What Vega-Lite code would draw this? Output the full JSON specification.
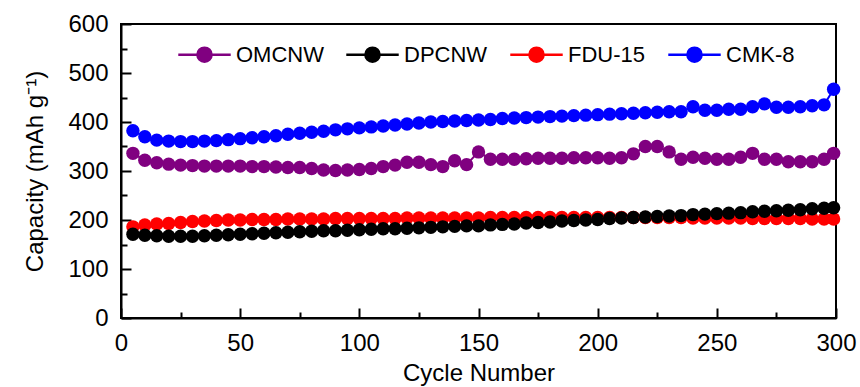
{
  "$schema": "https://vega.github.io/schema/vega-lite/v6.json",
  "autosize": {"type": "none"},
  "width": 715,
  "height": 294,
  "padding": {"left": 121, "top": 24, "right": 24, "bottom": 69},
  "background": "white",
  "config": {
    "font": "Liberation Sans",
    "view": {"stroke": "black", "strokeWidth": 2},
    "axis": {
      "labelFont": "Liberation Sans",
      "titleFont": "Liberation Sans",
      "labelFontSize": 24,
      "titleFontSize": 24,
      "titleFontWeight": "normal",
      "labelColor": "black",
      "titleColor": "black",
      "domainColor": "black",
      "domainWidth": 2,
      "tickColor": "black",
      "tickWidth": 2,
      "grid": false
    },
    "legend": {
      "labelFont": "Liberation Sans",
      "labelFontSize": 22,
      "labelColor": "black"
    }
  },
  "data": {
    "values": [
      {"c":5,"OMCNW":336,"DPCNW":171,"FDU-15":186,"CMK-8":382},
      {"c":10,"OMCNW":322,"DPCNW":169,"FDU-15":190,"CMK-8":370},
      {"c":15,"OMCNW":317,"DPCNW":168,"FDU-15":192,"CMK-8":363},
      {"c":20,"OMCNW":314,"DPCNW":167,"FDU-15":193,"CMK-8":361},
      {"c":25,"OMCNW":312,"DPCNW":167,"FDU-15":195,"CMK-8":360},
      {"c":30,"OMCNW":311,"DPCNW":167,"FDU-15":197,"CMK-8":360},
      {"c":35,"OMCNW":310,"DPCNW":168,"FDU-15":198,"CMK-8":361},
      {"c":40,"OMCNW":310,"DPCNW":169,"FDU-15":199,"CMK-8":362},
      {"c":45,"OMCNW":310,"DPCNW":170,"FDU-15":200,"CMK-8":364},
      {"c":50,"OMCNW":310,"DPCNW":171,"FDU-15":200,"CMK-8":366},
      {"c":55,"OMCNW":309,"DPCNW":172,"FDU-15":201,"CMK-8":368},
      {"c":60,"OMCNW":309,"DPCNW":173,"FDU-15":201,"CMK-8":370},
      {"c":65,"OMCNW":308,"DPCNW":174,"FDU-15":201,"CMK-8":372},
      {"c":70,"OMCNW":307,"DPCNW":175,"FDU-15":202,"CMK-8":375},
      {"c":75,"OMCNW":307,"DPCNW":176,"FDU-15":202,"CMK-8":377},
      {"c":80,"OMCNW":305,"DPCNW":177,"FDU-15":202,"CMK-8":379},
      {"c":85,"OMCNW":302,"DPCNW":178,"FDU-15":202,"CMK-8":381},
      {"c":90,"OMCNW":301,"DPCNW":178,"FDU-15":203,"CMK-8":384},
      {"c":95,"OMCNW":302,"DPCNW":179,"FDU-15":203,"CMK-8":386},
      {"c":100,"OMCNW":303,"DPCNW":180,"FDU-15":203,"CMK-8":388},
      {"c":105,"OMCNW":305,"DPCNW":181,"FDU-15":203,"CMK-8":390},
      {"c":110,"OMCNW":309,"DPCNW":182,"FDU-15":203,"CMK-8":392},
      {"c":115,"OMCNW":312,"DPCNW":182,"FDU-15":203,"CMK-8":394},
      {"c":120,"OMCNW":318,"DPCNW":183,"FDU-15":204,"CMK-8":396},
      {"c":125,"OMCNW":318,"DPCNW":184,"FDU-15":204,"CMK-8":398},
      {"c":130,"OMCNW":313,"DPCNW":185,"FDU-15":204,"CMK-8":400},
      {"c":135,"OMCNW":309,"DPCNW":186,"FDU-15":204,"CMK-8":401},
      {"c":140,"OMCNW":321,"DPCNW":187,"FDU-15":204,"CMK-8":402},
      {"c":145,"OMCNW":313,"DPCNW":188,"FDU-15":204,"CMK-8":403},
      {"c":150,"OMCNW":339,"DPCNW":188,"FDU-15":204,"CMK-8":404},
      {"c":155,"OMCNW":324,"DPCNW":190,"FDU-15":205,"CMK-8":405},
      {"c":160,"OMCNW":324,"DPCNW":191,"FDU-15":205,"CMK-8":407},
      {"c":165,"OMCNW":324,"DPCNW":192,"FDU-15":205,"CMK-8":408},
      {"c":170,"OMCNW":325,"DPCNW":194,"FDU-15":205,"CMK-8":409},
      {"c":175,"OMCNW":326,"DPCNW":195,"FDU-15":205,"CMK-8":410},
      {"c":180,"OMCNW":326,"DPCNW":196,"FDU-15":205,"CMK-8":411},
      {"c":185,"OMCNW":326,"DPCNW":198,"FDU-15":205,"CMK-8":412},
      {"c":190,"OMCNW":327,"DPCNW":199,"FDU-15":205,"CMK-8":413},
      {"c":195,"OMCNW":327,"DPCNW":200,"FDU-15":205,"CMK-8":414},
      {"c":200,"OMCNW":327,"DPCNW":201,"FDU-15":205,"CMK-8":415},
      {"c":205,"OMCNW":326,"DPCNW":203,"FDU-15":205,"CMK-8":416},
      {"c":210,"OMCNW":327,"DPCNW":204,"FDU-15":205,"CMK-8":417},
      {"c":215,"OMCNW":335,"DPCNW":205,"FDU-15":205,"CMK-8":418},
      {"c":220,"OMCNW":350,"DPCNW":206,"FDU-15":205,"CMK-8":419},
      {"c":225,"OMCNW":350,"DPCNW":207,"FDU-15":205,"CMK-8":420},
      {"c":230,"OMCNW":339,"DPCNW":208,"FDU-15":205,"CMK-8":421},
      {"c":235,"OMCNW":324,"DPCNW":209,"FDU-15":205,"CMK-8":421},
      {"c":240,"OMCNW":328,"DPCNW":211,"FDU-15":204,"CMK-8":431},
      {"c":245,"OMCNW":326,"DPCNW":212,"FDU-15":204,"CMK-8":424},
      {"c":250,"OMCNW":324,"DPCNW":213,"FDU-15":204,"CMK-8":424},
      {"c":255,"OMCNW":324,"DPCNW":214,"FDU-15":204,"CMK-8":426},
      {"c":260,"OMCNW":328,"DPCNW":215,"FDU-15":204,"CMK-8":426},
      {"c":265,"OMCNW":336,"DPCNW":217,"FDU-15":203,"CMK-8":431},
      {"c":270,"OMCNW":324,"DPCNW":218,"FDU-15":203,"CMK-8":437},
      {"c":275,"OMCNW":324,"DPCNW":219,"FDU-15":203,"CMK-8":430},
      {"c":280,"OMCNW":319,"DPCNW":220,"FDU-15":203,"CMK-8":430},
      {"c":285,"OMCNW":319,"DPCNW":221,"FDU-15":203,"CMK-8":431},
      {"c":290,"OMCNW":319,"DPCNW":223,"FDU-15":202,"CMK-8":433},
      {"c":295,"OMCNW":324,"DPCNW":224,"FDU-15":202,"CMK-8":435},
      {"c":299,"OMCNW":336,"DPCNW":225,"FDU-15":202,"CMK-8":467}
    ]
  },
  "transform": [
    {"fold": ["CMK-8", "OMCNW", "FDU-15", "DPCNW"], "as": ["series", "cap"]}
  ],
  "mark": {
    "type": "line",
    "strokeWidth": 2,
    "point": {"filled": true, "size": 180, "opacity": 1}
  },
  "encoding": {
    "x": {
      "field": "c",
      "type": "quantitative",
      "title": "Cycle Number",
      "scale": {"domain": [0, 300], "nice": false, "zero": false},
      "axis": {
        "values": [0, 25, 50, 75, 100, 125, 150, 175, 200, 225, 250, 275, 300],
        "labelExpr": "datum.value % 50 === 0 ? datum.label : ''",
        "tickSize": {"condition": {"test": "datum.value % 50 === 0", "value": -10}, "value": -6},
        "labelPadding": 23,
        "titlePadding": 2,
        "labelFlush": false,
        "labelOverlap": false
      }
    },
    "y": {
      "field": "cap",
      "type": "quantitative",
      "title": "Capacity (mAh g⁻¹)",
      "scale": {"domain": [0, 600], "nice": false},
      "axis": {
        "values": [0, 50, 100, 150, 200, 250, 300, 350, 400, 450, 500, 550, 600],
        "labelExpr": "datum.value % 100 === 0 ? datum.label : ''",
        "tickSize": {"condition": {"test": "datum.value % 100 === 0", "value": -10}, "value": -6},
        "labelPadding": 23,
        "titlePadding": 20,
        "labelFlush": false,
        "labelOverlap": false
      }
    },
    "color": {
      "field": "series",
      "type": "nominal",
      "scale": {
        "domain": ["OMCNW", "DPCNW", "FDU-15", "CMK-8"],
        "range": ["#800080", "#000000", "#ff0000", "#0000ff"]
      },
      "legend": {
        "title": null,
        "orient": "none",
        "direction": "horizontal",
        "legendX": 56,
        "legendY": 3,
        "padding": 0,
        "symbolType": "M-1,0H-0.27M0.27,0H1M0.27,0A0.27,0.27 0 1,1 -0.27,0A0.27,0.27 0 1,1 0.27,0Z",
        "symbolSize": 2750,
        "symbolStrokeWidth": 2.5,
        "symbolOpacity": 1,
        "labelOffset": 4,
        "columnPadding": 17,
        "encode": {
          "symbols": {"update": {"fill": {"scale": "color", "field": "value"}, "opacity": {"value": 1}}}
        }
      }
    }
  }
}
